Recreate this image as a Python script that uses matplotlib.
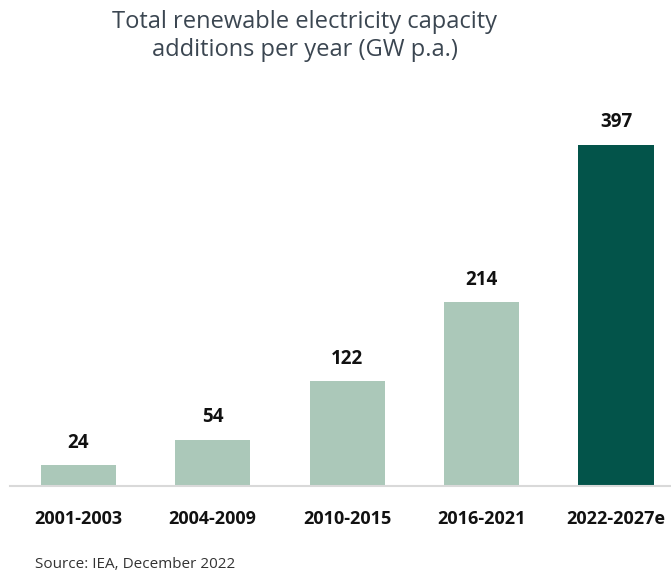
import matplotlib
matplotlib.use("Agg")
import matplotlib.pyplot as plt

categories = ["2001-2003", "2004-2009", "2010-2015", "2016-2021", "2022-2027e"]
values = [24, 54, 122, 214, 397]
colors = ["#abc8b9", "#abc8b9", "#abc8b9", "#abc8b9", "#03544a"]
title = "Total renewable electricity capacity\nadditions per year (GW p.a.)"
source = "Source: IEA, December 2022"

plt.rcParams['font.family'] = ['Open Sans', 'DejaVu Sans']

W, H = 671, 574
fig = plt.figure(figsize=(W / 100, H / 100), dpi=100)
ax = fig.add_axes([10 / W, (H - 486) / H, 1 - 10 / W, 386 / H])

x = list(range(len(categories)))
ax.bar(x, values, width=0.558, color=colors, zorder=2)
ax.set_xlim(-0.506, 4.409)
ax.set_ylim(0, 449)

for xi, v in zip(x, values):
    ax.annotate(str(v), (xi, v), xytext=(0, 9), textcoords="offset points",
                ha="center", va="bottom", fontsize=13.5, fontweight="bold",
                color="#111111")

for s in ["top", "right", "left"]:
    ax.spines[s].set_visible(False)
ax.spines["bottom"].set_color("#d9d9d9")
ax.spines["bottom"].set_linewidth(1.5)
ax.set_yticks([])
ax.set_xticks(x)
ax.set_xticklabels(categories, fontsize=13, fontweight="bold", color="#111111")
ax.tick_params(axis="x", length=0, pad=17)

fig.text(305 / W, 1 - 36 / H, title, ha="center", va="center", fontsize=17,
         color="#3b4651", linespacing=1.25)
fig.text(35 / W, 1 - 565 / H, source, ha="left", va="center", fontsize=11, color="#333333")

fig.savefig("out.png", dpi=100)
